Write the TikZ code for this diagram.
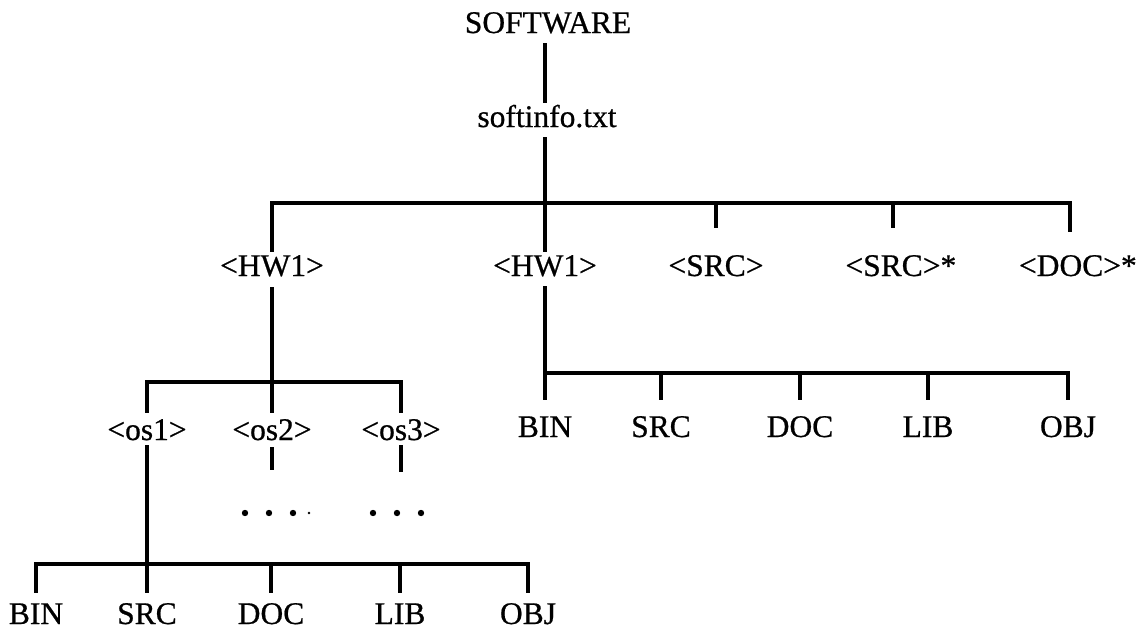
\documentclass[tikz,border=0pt]{standalone}
\usepackage{fontspec}
\setmainfont{Liberation Serif}[FakeBold=0.7]
\begin{document}
\begin{tikzpicture}[x=1pt,y=-1pt,
  lbl/.style={font=\fontsize{31.5}{36}\selectfont, inner sep=0pt, text height=21pt, text depth=0pt, anchor=base},
  conn/.style={line width=4pt, line join=miter, line cap=butt},
  dot/.style={fill=black}]
\useasboundingbox (0,0) rectangle (1141,629);
% nodes
\node[lbl] (sw) at (548,33) {SOFTWARE};
\node[lbl] (si) at (547,127) {softinfo.txt};
\node[lbl] (hwa) at (272,276) {<HW1>};
\node[lbl] (hwb) at (545,276) {<HW1>};
\node[lbl] (srca) at (716,276) {<SRC>};
\node[lbl] (srcb) at (893,276) {<SRC>\rlap{*}};
\node[lbl] (doca) at (1070,276) {<DOC>\rlap{*}};
\node[lbl] (os1) at (147,440) {<os1>};
\node[lbl] (os2) at (272,440) {<os2>};
\node[lbl] (os3) at (401,440) {<os3>};
\node[lbl] (binr) at (545,437) {BIN};
\node[lbl] (srcr) at (661,437) {SRC};
\node[lbl] (docr) at (800,437) {DOC};
\node[lbl] (libr) at (928,437) {LIB};
\node[lbl] (objr) at (1068,437) {OBJ};
\node[lbl] (binl) at (36,624) {BIN};
\node[lbl] (srcl) at (147,624) {SRC};
\node[lbl] (docl) at (271,624) {DOC};
\node[lbl] (libl) at (400,624) {LIB};
\node[lbl] (objl) at (528,624) {OBJ};
% junction coordinates
\coordinate (t1) at (545,203);
\coordinate (t2) at (1070,203);
\coordinate (m1) at (272,382);
\coordinate (m2) at (401,382);
\coordinate (r1) at (545,373);
\coordinate (r2) at (1068,373);
\coordinate (b1) at (147,564);
\coordinate (b2) at (528,564);
% connectors
\draw[conn] (545,43) -- ([yshift=3pt]hwb.north |- si.north);
\draw[conn] (545,137) -- ([yshift=3pt]hwb.north);
\draw[conn] ([yshift=3pt]hwa.north) |- (t2) -- ([yshift=23pt]doca.north);
\draw[conn] (srca.north |- t1) -- ([yshift=27pt]srca.north);
\draw[conn] (srcb.north |- t1) -- ([yshift=27pt]srcb.north);
% left subtree
\draw[conn] ([yshift=-11pt]hwa.south) -- ([yshift=6pt]os2.north);
\draw[conn] ([yshift=6pt]os1.north) |- (m2) -- ([yshift=6pt]os3.north);
\draw[conn] ([yshift=-5pt]os1.south) -- ([yshift=10pt]srcl.north);
\draw[conn] ([yshift=10pt]binl.north) |- (b2) -- ([yshift=10pt]objl.north);
\draw[conn] (docl.north |- b1) -- ([yshift=10pt]docl.north);
\draw[conn] (libl.north |- b1) -- ([yshift=10pt]libl.north);
\draw[conn] ([yshift=-7pt]os2.south) -- ++(0,23);
\draw[conn] ([yshift=-5pt]os3.south) -- ++(0,27);
% dots
\fill[dot] (245,513) circle (3.2pt);
\fill[dot] (269,513) circle (3.2pt);
\fill[dot] (293,513) circle (3.2pt);
\fill[dot] (309,513) circle (1.3pt);
\fill[dot] (373,513) circle (3.2pt);
\fill[dot] (397,513) circle (3.2pt);
\fill[dot] (421,513) circle (3.2pt);
% right subtree
\draw[conn] ([yshift=-10pt]hwb.south) -- ([yshift=16pt]binr.north);
\draw[conn] (r1) -- (r2) -- ([yshift=16pt]objr.north);
\draw[conn] (srcr.north |- r1) -- ([yshift=16pt]srcr.north);
\draw[conn] (docr.north |- r1) -- ([yshift=16pt]docr.north);
\draw[conn] (libr.north |- r1) -- ([yshift=16pt]libr.north);
\end{tikzpicture}
\end{document}
